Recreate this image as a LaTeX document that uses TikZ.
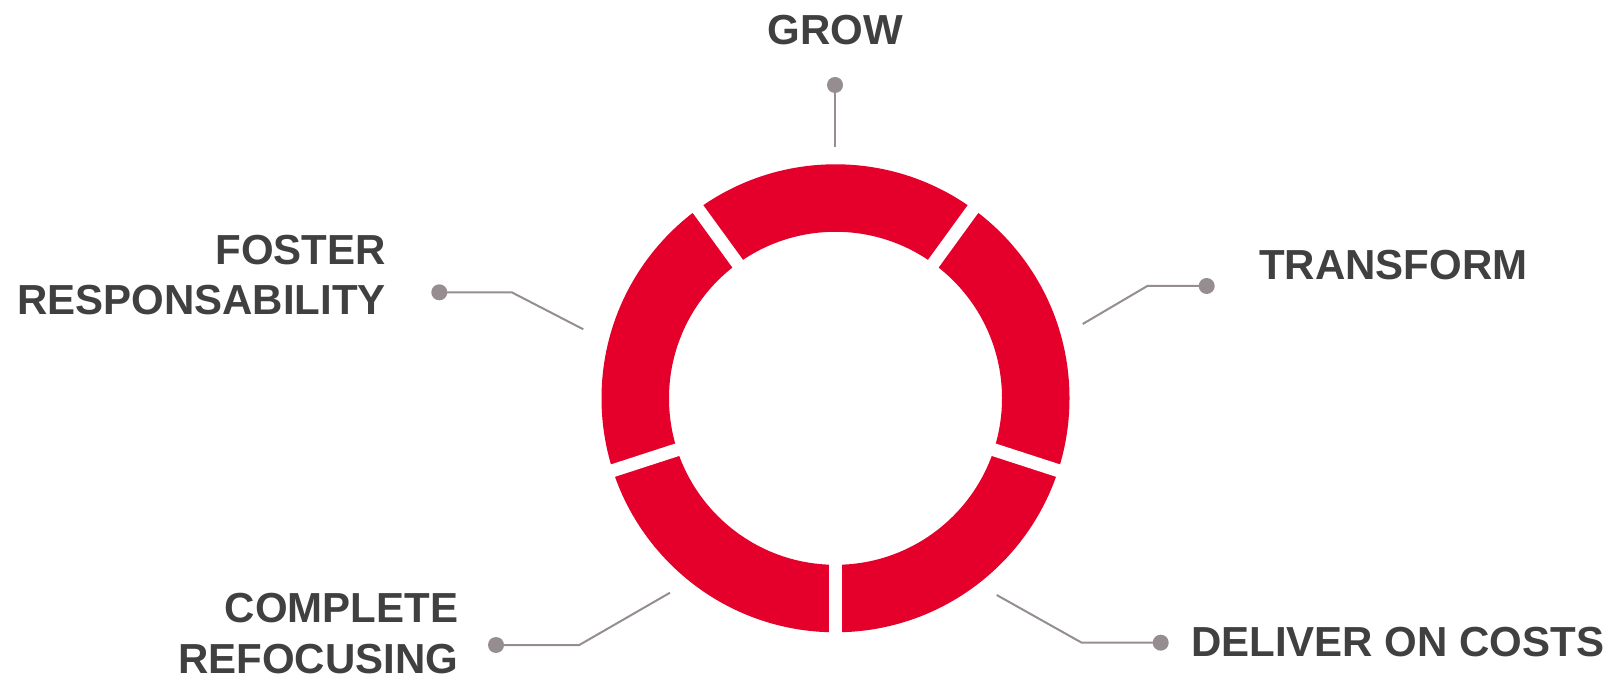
\documentclass[tikz,border=0pt]{standalone}
\usepackage{fontspec}
\setmainfont{Liberation Sans}
\usetikzlibrary{positioning}
\definecolor{ringRed}{HTML}{E4002B}
\definecolor{labelGray}{HTML}{404040}
\definecolor{lineGray}{HTML}{958D8F}

\begin{document}
\begin{tikzpicture}[x=1pt, y=1pt,
  myLabel/.style={text=labelGray, font=\fontsize{42}{50.7}\selectfont\bfseries, inner sep=0pt},
  myDot/.style={circle, fill=lineGray, minimum size=16pt, inner sep=0pt},
  myLine/.style={lineGray, line width=2pt}
]

\useasboundingbox (0,0) rectangle (1612,675);

% ring
\coordinate (ringCenter) at (835.5,276.7);
\fill[ringRed, even odd rule] (ringCenter) circle (234pt) (ringCenter) circle (166.5pt);

% gaps between the five parts
\foreach \a in {270,342,54,126,198}
\draw[white, line width=13pt] (ringCenter) -- ++(\a:240pt);


% labels (base = last line)
\node[myLabel, anchor=base] (grow) at (835,630.5) {GROW};
\node[myLabel, anchor=base west] (transform) at (1259,395) {TRANSFORM};
\node[myLabel, anchor=base east, align=right] (foster) at (386,360) {FOSTER\\RESPONSABILITY};
\node[myLabel, anchor=base east, align=right] (complete) at (458.5,1.5) {COMPLETE\\REFOCUSING};
\node[myLabel, anchor=base west] (deliver) at (1191,19) {DELIVER ON COSTS};


% leaders
\node[myDot] (growDot) at (835,590) {};
\coordinate (growEnd) at (835,527.7);
\draw[myLine] (growDot.center) -- (growEnd);

\node[myDot] (transformDot) at (1206.7,389) {};
\coordinate (transformBend) at (1147.3,389);
\coordinate (transformEnd) at (1082.7,351);
\draw[myLine] (transformDot.center) -- (transformBend) -- (transformEnd);

\node[myDot] (fosterDot) at (439.3,382.7) {};
\coordinate (fosterBend) at (511.7,382.7);
\coordinate (fosterEnd) at (583.3,345.7);
\draw[myLine] (fosterDot.center) -- (fosterBend) -- (fosterEnd);

\node[myDot] (completeDot) at (496,30) {};
\coordinate (completeBend) at (579.3,30);
\coordinate (completeEnd) at (670,82.3);
\draw[myLine] (completeDot.center) -- (completeBend) -- (completeEnd);

\node[myDot] (deliverDot) at (1160.7,32.3) {};
\coordinate (deliverBend) at (1081.7,32.3);
\coordinate (deliverEnd) at (996.7,80);
\draw[myLine] (deliverDot.center) -- (deliverBend) -- (deliverEnd);

\end{tikzpicture}
\end{document}
